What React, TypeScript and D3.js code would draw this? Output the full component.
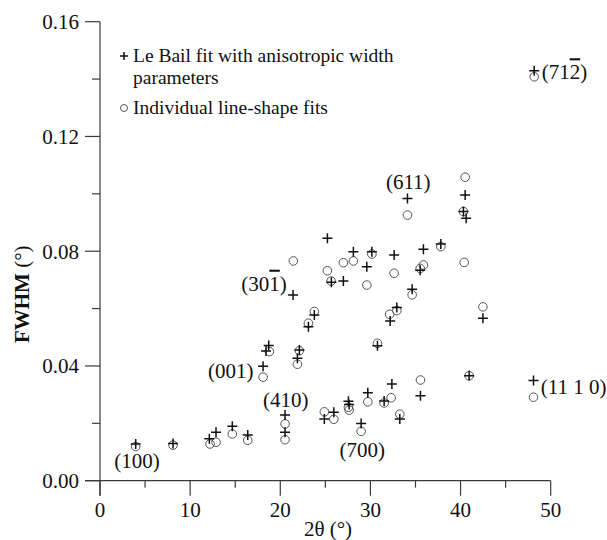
import React from "react";
import * as d3 from "d3";

// 2θ (°) and FWHM (°) for the Le Bail fit with anisotropic width parameters
const leBailTwoTheta = [
  3.96, 8.1, 12.13, 12.87, 14.68, 16.39, 20.53, 20.53, 24.89, 25.94, 27.56, 27.64,
  28.97, 29.71, 31.52, 32.38, 33.26, 35.55, 40.95, 48.09, 18.09, 18.42, 18.72, 21.9,
  22.12, 23.12, 23.78, 21.42, 25.67, 27.0, 25.23, 28.11, 30.16, 29.6, 30.78, 32.19,
  32.93, 32.63, 34.63, 35.52, 35.88, 37.81, 34.11, 40.51, 40.32, 40.62, 42.48, 48.17,
];
const leBailFwhm = [
  0.0128, 0.013, 0.0146, 0.0169, 0.019, 0.0159, 0.0229, 0.0169, 0.0215, 0.0239, 0.0277, 0.0266,
  0.0199, 0.0307, 0.0278, 0.0337, 0.0215, 0.0296, 0.0366, 0.0349, 0.0399, 0.0452, 0.0471, 0.0427,
  0.0456, 0.0537, 0.0578, 0.0647, 0.0692, 0.0696, 0.0845, 0.0798, 0.0798, 0.0746, 0.047, 0.0557,
  0.0604, 0.0787, 0.0667, 0.0734, 0.0807, 0.0825, 0.0984, 0.0996, 0.0938, 0.0915, 0.0566, 0.1429,
];

// 2θ (°) and FWHM (°) from individual line-shape fits
const lineShapeTwoTheta = [
  3.96, 8.1, 12.21, 12.87, 14.68, 16.39, 20.53, 20.53, 24.89, 25.94, 27.56, 27.64,
  28.97, 29.71, 31.52, 32.3, 33.26, 35.55, 40.95, 48.09, 18.09, 18.79, 21.9, 22.12,
  23.12, 23.78, 21.45, 25.64, 25.23, 27.0, 28.11, 30.16, 29.6, 30.78, 32.13, 32.93,
  32.63, 34.63, 35.52, 35.88, 37.81, 34.11, 40.51, 40.32, 40.4, 42.48, 48.17,
];
const lineShapeFwhm = [
  0.0119, 0.0124, 0.0128, 0.0134, 0.0163, 0.0141, 0.0198, 0.0143, 0.024, 0.0214, 0.0256, 0.0246,
  0.0172, 0.0275, 0.0271, 0.0289, 0.0232, 0.0351, 0.0366, 0.0291, 0.0361, 0.045, 0.0406, 0.0453,
  0.0549, 0.059, 0.0766, 0.0696, 0.0732, 0.076, 0.0766, 0.079, 0.0682, 0.0479, 0.058, 0.0593,
  0.0723, 0.0648, 0.074, 0.0752, 0.0816, 0.0926, 0.1058, 0.0938, 0.0761, 0.0606, 0.1408,
];

// Miller-index annotations: text, barred digit (index into text or -1), anchor (2θ, FWHM), anchor side
const hklText = ["(100)", "(410)", "(700)", "(001)", "(301)", "(611)", "(712)", "(11 1 0)"];
const hklBar = [-1, -1, -1, -1, 3, -1, 3, -1];
const hklTwoTheta = [4.1, 20.6, 29.1, 14.5, 18.2, 34.2, 49.0, 48.9];
const hklFwhm = [0.0069, 0.0281, 0.0107, 0.0383, 0.0688, 0.1041, 0.1425, 0.0327];
const hklAnchor = ["middle", "middle", "middle", "middle", "middle", "middle", "start", "start"];

const xTicks = [0, 10, 20, 30, 40, 50];
const xMinorTicks = [5, 15, 25, 35, 45];
const yTicks = [0, 0.04, 0.08, 0.12, 0.16];
const yMinorTicks = [0.02, 0.06, 0.1, 0.14];

const legendItems = ["Le Bail fit with anisotropic width", "parameters", "Individual line-shape fits"];

const FONT = "'Liberation Serif', 'Times New Roman', serif";
const AXIS = "#3a3a3a";

function Plus({ x, y, s = 5 }: { x: number; y: number; s?: number }) {
  return (
    <path
      d={`M${x - s},${y}H${x + s}M${x},${y - s}V${y + s}`}
      stroke="#111"
      strokeWidth={1.5}
      fill="none"
    />
  );
}

function Ring({ x, y, r = 4.3 }: { x: number; y: number; r?: number }) {
  return <circle cx={x} cy={y} r={r} fill="none" stroke="#555" strokeWidth={1} />;
}

export default function App() {
  const width = 607;
  const height = 540;
  const x = d3.scaleLinear().domain([0, 50]).range([100, 550.7]);
  const y = d3.scaleLinear().domain([0, 0.16]).range([480.7, 21.7]);
  const fmtY = d3.format(".2f");

  const leBail = leBailTwoTheta.map((t, i) => [t, leBailFwhm[i]]);
  const lineShape = lineShapeTwoTheta.map((t, i) => [t, lineShapeFwhm[i]]);

  return (
    <svg
      width={width}
      height={height}
      style={{ position: "absolute", left: 0, top: 0, background: "#fff" }}
      fontFamily={FONT}
    >
      {/* axes */}
      <line x1={x(0)} x2={x(0)} y1={y(0.16)} y2={y(0) + 15} stroke={AXIS} strokeWidth={1.2} />
      <line x1={x(0) - 15} x2={x(50)} y1={y(0)} y2={y(0)} stroke={AXIS} strokeWidth={1.2} />
      {xTicks.map((t) => (
        <g key={"xt" + t}>
          <line x1={x(t)} x2={x(t)} y1={y(0)} y2={y(0) + 15} stroke={AXIS} strokeWidth={1.2} />
          <text x={x(t)} y={517} textAnchor="middle" fontSize={21} fill="#111">
            {t}
          </text>
        </g>
      ))}
      {xMinorTicks.map((t) => (
        <line key={"xm" + t} x1={x(t)} x2={x(t)} y1={y(0)} y2={y(0) + 7} stroke={AXIS} strokeWidth={1.2} />
      ))}
      {yTicks.map((t) => (
        <g key={"yt" + t}>
          <line x1={x(0) - 15} x2={x(0)} y1={y(t)} y2={y(t)} stroke={AXIS} strokeWidth={1.2} />
          <text x={79} y={y(t)} dy="0.35em" textAnchor="end" fontSize={21} fill="#111">
            {fmtY(t)}
          </text>
        </g>
      ))}
      {yMinorTicks.map((t) => (
        <line key={"ym" + t} x1={x(0) - 8} x2={x(0)} y1={y(t)} y2={y(t)} stroke={AXIS} strokeWidth={1.2} />
      ))}

      {/* axis titles */}
      <text x={328} y={536} textAnchor="middle" fontSize={21} fill="#111">
        2θ (°)
      </text>
      <text
        transform={`translate(29,${y(0.065)}) rotate(-90)`}
        textAnchor="middle"
        fontSize={21}
        fill="#111"
      >
        <tspan fontWeight="bold">FWHM</tspan> (°)
      </text>

      {/* legend */}
      <Plus x={124} y={56} s={4} />
      <text x={133} y={62} fontSize={19.5} fill="#111">
        {legendItems[0]}
      </text>
      <text x={133} y={84} fontSize={19.5} fill="#111">
        {legendItems[1]}
      </text>
      <Ring x={124} y={108} r={3.5} />
      <text x={133} y={114} fontSize={19.5} fill="#111">
        {legendItems[2]}
      </text>

      {/* individual line-shape fits */}
      {lineShape.map(([t, w], i) => (
        <Ring key={"c" + i} x={x(t)} y={y(w)} />
      ))}
      {/* Le Bail fit */}
      {leBail.map(([t, w], i) => (
        <Plus key={"p" + i} x={x(t)} y={y(w)} />
      ))}

      {/* reflection labels */}
      {hklText.map((txt, i) => {
        const b = hklBar[i];
        return (
          <text
            key={"h" + i}
            x={x(hklTwoTheta[i])}
            y={y(hklFwhm[i])}
            dy="0.35em"
            textAnchor={hklAnchor[i]}
            fontSize={21}
            fill="#111"
          >
            {b < 0 ? (
              txt
            ) : (
              <>
                {txt.slice(0, b)}
                <tspan style={{ textDecoration: "overline" }}>{txt[b]}</tspan>
                {txt.slice(b + 1)}
              </>
            )}
          </text>
        );
      })}
    </svg>
  );
}
